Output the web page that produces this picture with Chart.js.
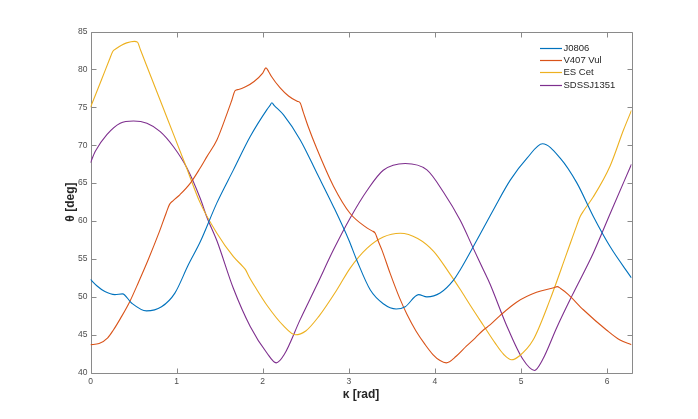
<!DOCTYPE html>
<html>
<head>
<meta charset="utf-8">
<script src="https://cdn.jsdelivr.net/npm/chart.js@4.4.1/dist/chart.umd.min.js"></script>
<style>
  html, body { margin: 0; padding: 0; background: #fff; }
  #wrap { width: 698px; height: 419px; }
</style>
</head>
<body>
<div id="wrap"><canvas id="thetaChart" width="698" height="419"></canvas></div>
<script>
// tick labels
const xTicks = [0, 1, 2, 3, 4, 5, 6];
const yTicks = [40, 45, 50, 55, 60, 65, 70, 75, 80, 85];

// J0806
const kappaJ0806 = [0, 0.08, 0.167, 0.283, 0.372, 0.476, 0.65, 0.825, 0.98, 1.135, 1.276, 1.468, 1.66, 1.855, 2.049, 2.085, 2.107, 2.13, 2.242, 2.436, 2.63, 2.822, 3.0, 3.094, 3.25, 3.40, 3.55, 3.655, 3.81, 3.907, 4.06, 4.216, 4.293, 4.488, 4.68, 4.875, 5.07, 5.25, 5.455, 5.65, 5.84, 6.036, 6.283];
const thetaJ0806 = [52.3, 51.4, 50.7, 50.3, 50.4, 49.2, 48.15, 48.7, 50.5, 54.2, 57.3, 62.4, 66.75, 71.15, 74.7, 75.25, 75.6, 75.3, 74.0, 70.7, 66.3, 61.9, 57.5, 54.8, 50.9, 49.1, 48.4, 48.7, 50.3, 50.0, 50.5, 52.2, 53.55, 57.5, 61.5, 65.4, 68.3, 70.2, 68.3, 65.0, 60.6, 56.6, 52.5];

// V407 Vul
const kappaV407 = [0, 0.1, 0.2, 0.264, 0.35, 0.457, 0.56, 0.67, 0.8, 0.88, 0.918, 0.96, 1.04, 1.16, 1.274, 1.352, 1.468, 1.58, 1.64, 1.68, 1.72, 1.8, 1.9, 2.0, 2.037, 2.07, 2.1, 2.2, 2.3, 2.40, 2.434, 2.47, 2.53, 2.63, 2.822, 3.016, 3.21, 3.27, 3.307, 3.34, 3.384, 3.48, 3.588, 3.675, 3.78, 3.887, 3.977, 4.06, 4.132, 4.25, 4.365, 4.47, 4.56, 4.64, 4.753, 4.948, 5.18, 5.38, 5.42, 5.46, 5.55, 5.724, 5.996, 6.15, 6.283];
const thetaV407 = [43.7, 43.85, 44.6, 45.6, 47.2, 49.4, 52.0, 54.9, 58.6, 61.1, 62.2, 62.7, 63.5, 65.0, 67.0, 68.5, 70.7, 74.0, 75.9, 77.2, 77.35, 77.7, 78.4, 79.5, 80.2, 79.7, 79.1, 77.6, 76.5, 75.8, 75.6, 74.4, 72.4, 69.5, 64.6, 61.0, 59.1, 58.7, 58.4, 57.4, 56.2, 53.1, 49.9, 47.7, 45.5, 43.7, 42.4, 41.6, 41.3, 42.2, 43.5, 44.6, 45.6, 46.3, 47.5, 49.3, 50.6, 51.2, 51.35, 51.1, 50.3, 48.3, 45.6, 44.3, 43.7];

// ES Cet
const kappaESCet = [0, 0.13, 0.22, 0.26, 0.30, 0.36, 0.42, 0.51, 0.545, 0.58, 0.7, 0.9, 1.1, 1.274, 1.468, 1.66, 1.77, 1.80, 1.84, 1.913, 2.049, 2.24, 2.378, 2.5, 2.65, 2.86, 3.016, 3.21, 3.40, 3.597, 3.8, 3.985, 4.158, 4.293, 4.41, 4.56, 4.70, 4.80, 4.89, 4.98, 5.14, 5.336, 5.533, 5.65, 5.687, 5.73, 5.84, 6.036, 6.19, 6.283];
const thetaESCet = [75.0, 78.7, 81.3, 82.4, 82.75, 83.2, 83.5, 83.7, 83.6, 82.6, 79.1, 73.3, 67.5, 62.4, 58.4, 55.3, 54.0, 53.6, 52.7, 51.3, 48.9, 46.2, 45.0, 45.5, 47.4, 50.9, 53.8, 56.4, 57.9, 58.4, 57.7, 56.0, 53.3, 51.0, 48.9, 46.3, 43.9, 42.4, 41.7, 42.2, 44.3, 49.6, 55.8, 59.5, 60.6, 61.4, 63.2, 67.3, 72.0, 74.6];

// SDSSJ1351
const kappaSDSS = [0, 0.056, 0.19, 0.345, 0.5, 0.655, 0.81, 0.964, 1.12, 1.274, 1.352, 1.468, 1.66, 1.855, 2.049, 2.157, 2.25, 2.435, 2.63, 2.822, 3.016, 3.21, 3.40, 3.655, 3.907, 4.10, 4.294, 4.45, 4.564, 4.64, 4.83, 5.02, 5.157, 5.25, 5.417, 5.59, 5.84, 6.036, 6.283];
const thetaSDSS = [67.7, 69.2, 71.4, 72.9, 73.2, 72.9, 71.8, 69.8, 67.0, 63.0, 60.5, 57.4, 51.1, 46.1, 42.6, 41.3, 42.4, 47.0, 51.6, 56.2, 60.4, 64.0, 66.7, 67.6, 66.75, 63.8, 60.1, 56.3, 53.55, 51.7, 46.3, 41.8, 40.3, 41.7, 46.0, 50.1, 55.8, 61.0, 67.5];

const FONT = "'Liberation Sans', Arial, Helvetica, sans-serif";
const AXIS_COLOR = '#8a8a8a';
const TICK_LEN = 5;

function toPoints(xs, ys) {
    return xs.map((x, i) => ({ x: x, y: ys[i] }));
}

function makeSeries(label, xs, ys, color) {
    return {
        label: label,
        data: toPoints(xs, ys),
        borderColor: color,
        backgroundColor: color,
        borderWidth: 1.1,
        pointRadius: 0,
        fill: false,
        cubicInterpolationMode: 'monotone'
    };
}

// box around the axes with inward ticks, like matlab
const boxPlugin = {
    id: 'boxPlugin',
    beforeDatasetsDraw(chart) {
        const { ctx, chartArea: a, scales } = chart;
        const l = Math.round(a.left) + 0.5, r = Math.round(a.right) + 0.5;
        const t = Math.round(a.top) + 0.5, b = Math.round(a.bottom) + 0.5;
        ctx.save();
        ctx.strokeStyle = AXIS_COLOR;
        ctx.lineWidth = 1;
        ctx.beginPath();
        ctx.rect(l, t, r - l, b - t);
        xTicks.forEach(v => {
            const px = Math.round(scales.x.getPixelForValue(v)) + 0.5;
            ctx.moveTo(px, b); ctx.lineTo(px, b - TICK_LEN);
            ctx.moveTo(px, t); ctx.lineTo(px, t + TICK_LEN);
        });
        yTicks.forEach(v => {
            const py = Math.round(scales.y.getPixelForValue(v)) + 0.5;
            ctx.moveTo(l, py); ctx.lineTo(l + TICK_LEN, py);
            ctx.moveTo(r, py); ctx.lineTo(r - TICK_LEN, py);
        });
        ctx.stroke();
        ctx.restore();
    }
};

// legend inside the top right corner, no frame
const legendPlugin = {
    id: 'legendPlugin',
    afterDatasetsDraw(chart) {
        const ctx = chart.ctx;
        const x0 = 540, x1 = 562, y0 = 48, step = 12.2;
        ctx.save();
        ctx.font = '9.5px ' + FONT;
        ctx.textBaseline = 'middle';
        ctx.textAlign = 'left';
        chart.data.datasets.forEach((ds, i) => {
            const y = Math.round(y0 + i * step) + 0.5;
            ctx.strokeStyle = ds.borderColor;
            ctx.lineWidth = 1.2;
            ctx.beginPath();
            ctx.moveTo(x0, y);
            ctx.lineTo(x1, y);
            ctx.stroke();
            ctx.fillStyle = '#262626';
            ctx.fillText(ds.label, x1 + 1.5, y);
        });
        ctx.restore();
    }
};

new Chart(document.getElementById('thetaChart'), {
    type: 'line',
    data: {
        datasets: [
            makeSeries('J0806', kappaJ0806, thetaJ0806, '#0072BD'),
            makeSeries('V407 Vul', kappaV407, thetaV407, '#D95319'),
            makeSeries('ES Cet', kappaESCet, thetaESCet, '#EDB120'),
            makeSeries('SDSSJ1351', kappaSDSS, thetaSDSS, '#7E2F8E')
        ]
    },
    options: {
        responsive: false,
        animation: false,
        layout: { padding: { left: 0, top: 31.5, right: 66.5, bottom: 0 } },
        plugins: {
            legend: { display: false },
            tooltip: { enabled: false }
        },
        scales: {
            x: {
                type: 'linear',
                min: 0,
                max: 2 * Math.PI,
                afterBuildTicks: (scale) => { scale.ticks = xTicks.map(v => ({ value: v })); },
                afterFit: (scale) => { scale.height = 46.3; },
                grid: { display: false, drawTicks: false },
                border: { display: false },
                ticks: {
                    padding: 4,
                    color: '#4d4d4d',
                    font: { family: FONT, size: 8.5 },
                    maxRotation: 0,
                    callback: (v) => String(v)
                },
                title: {
                    display: true,
                    text: 'κ [rad]',
                    color: '#262626',
                    font: { family: FONT, size: 12, weight: 'bold' },
                    padding: { top: 0, bottom: 17.5 }
                }
            },
            y: {
                type: 'linear',
                min: 40,
                max: 85,
                afterBuildTicks: (scale) => { scale.ticks = yTicks.map(v => ({ value: v })); },
                afterFit: (scale) => { scale.width = 90.5; },
                grid: { display: false, drawTicks: false },
                border: { display: false },
                ticks: {
                    padding: 3,
                    color: '#4d4d4d',
                    font: { family: FONT, size: 8.5 },
                    callback: (v) => String(v)
                },
                title: {
                    display: true,
                    text: 'θ [deg]',
                    color: '#262626',
                    font: { family: FONT, size: 12, weight: 'bold' },
                    padding: { top: 63.8, bottom: 0 }
                }
            }
        }
    },
    plugins: [boxPlugin, legendPlugin]
});
</script>
</body>
</html>
